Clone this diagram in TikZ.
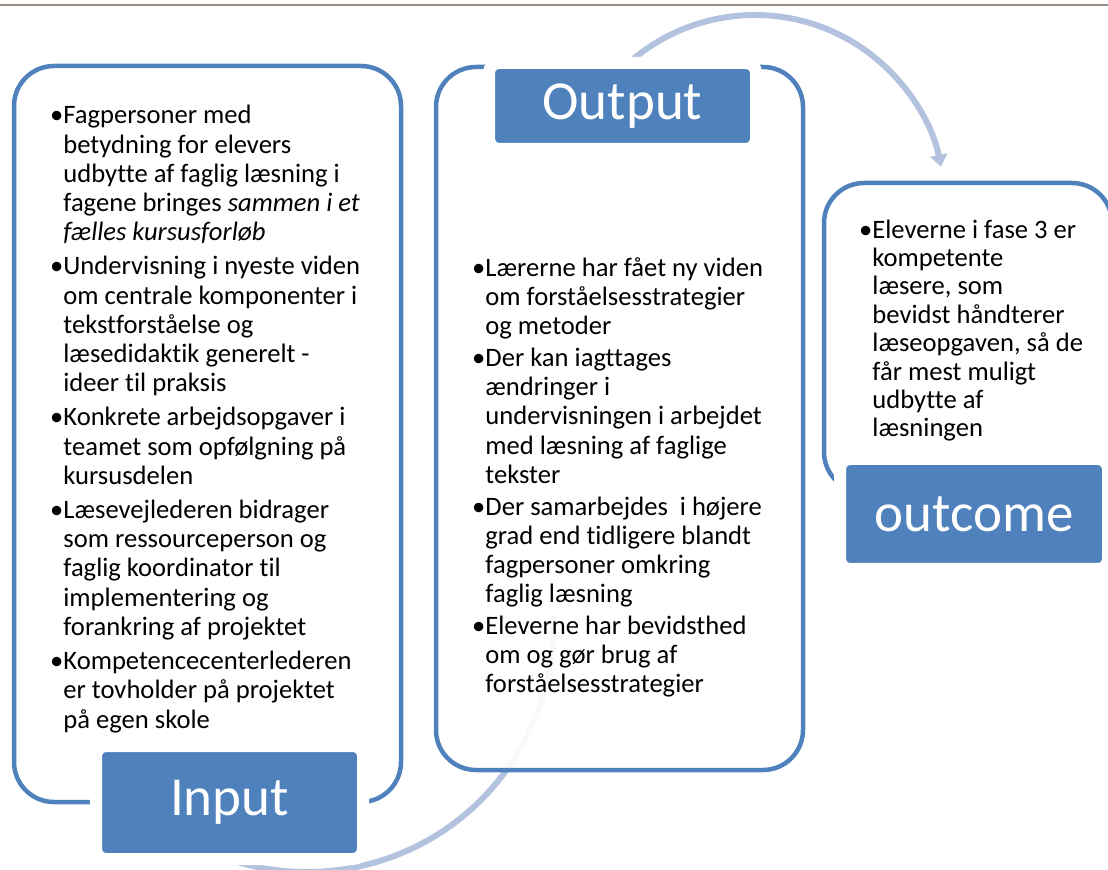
\documentclass[tikz,border=0pt]{standalone}
\usepackage{fontspec}
\setmainfont[Ligatures={NoCommon,NoContextual,NoRequired,NoRare},Contextuals=NoAlternate]{Carlito}
\usepackage{xcolor}
\usetikzlibrary{arrows.meta}

\definecolor{smartblue}{HTML}{4F81BD}
\definecolor{flowblue}{HTML}{B3C2DE}
\definecolor{rulegrey}{HTML}{978D85}

\newcommand{\bul}{\llap{•}}

\tikzset{
  panel/.style={draw=smartblue, line width=2.25pt, fill=white, fill opacity=0.9,
    rounded corners=20pt, inner sep=0pt},
  tag/.style={fill=smartblue, draw=white, line width=6pt, rounded corners=5pt,
    text=white, font=\fontsize{27.5}{33}\selectfont, inner sep=0pt},
  bodytext/.style={align=left, inner sep=0pt, anchor=base west,
    font=\fontsize{13.3}{14.6}\selectfont},
  flow/.style={draw=flowblue, line width=3pt, -{Triangle[width=8.5pt,length=6pt]}}
}

\begin{document}
\begin{tikzpicture}[x=0.5pt, y=-0.5pt]
  \useasboundingbox (0,0) rectangle (1108,870);
  \draw[rulegrey, line width=1pt] (0,5) -- (1108,5);

  % the two bent arrows sit behind the panels
  \coordinate (hubA) at (307,626);
  \coordinate (hubB) at (755,205);
  \draw[flow] (hubA) ++(120:246) arc[start angle=120, end angle=-3, radius=246];
  \draw[flow] (hubB) ++(-140:190) arc[start angle=-140, end angle=-11.6, radius=190];

  \node[panel, minimum width=193.5pt, minimum height=368pt] (inpanel) at (207.5,434) {};
  \node[panel, minimum width=183.5pt, minimum height=351.5pt] (outpanel) at (619.5,418.5) {};
  \node[panel, minimum width=144pt, minimum height=154.5pt] (effpanel) at (968,337.5) {};

  \node[tag, minimum width=133.5pt, minimum height=56.5pt] (intag) at (229.5,802.5) {Input};
  \node[tag, minimum width=133.5pt, minimum height=43pt] (outtag) at (622.5,106) {Output};
  \node[tag, minimum width=134pt, minimum height=55pt] (efftag) at (974,514) {outcome};

  % lists are placed by the baseline of their last line
  \node[bodytext] (inlist) at (63,728) {%
    \bul Fagpersoner med\\
    betydning for elevers\\
    udbytte af faglig læsning i\\
    fagene bringes \textit{sammen i et}\\
    \textit{fælles kursusforløb}\\[2.5pt]
    \bul Undervisning i nyeste viden\\
    om centrale komponenter i\\
    tekstforståelse og\\
    læsedidaktik generelt -\\
    ideer til praksis\\[2.5pt]
    \bul Konkrete arbejdsopgaver i\\
    teamet som opfølgning på\\
    kursusdelen\\[2.5pt]
    \bul Læsevejlederen bidrager\\
    som ressourceperson og\\
    faglig koordinator til\\
    implementering og\\
    forankring af projektet\\[2.5pt]
    \bul Kompetencecenterlederen\\
    er tovholder på projektet\\
    på egen skole};

  \node[bodytext] (outlist) at (485,693) {%
    \bul Lærerne har fået ny viden\\
    om forståelsesstrategier\\
    og metoder\\[1.3pt]
    \bul Der kan iagttages\\
    ændringer i\\
    undervisningen i arbejdet\\
    med læsning af faglige\\
    tekster\\[1.3pt]
    \bul Der samarbejdes\ \ i højere\\
    grad end tidligere blandt\\
    fagpersoner omkring\\
    faglig læsning\\[1.3pt]
    \bul Eleverne har bevidsthed\\
    om og gør brug af\\
    forståelsesstrategier};

  \node[bodytext, font=\fontsize{13.3}{14.2}\selectfont] (efflist) at (872,437) {%
    \bul Eleverne i fase 3 er\\
    kompetente\\
    læsere, som\\
    bevidst håndterer\\
    læseopgaven, så de\\
    får mest muligt\\
    udbytte af\\
    læsningen};
\end{tikzpicture}
\end{document}
